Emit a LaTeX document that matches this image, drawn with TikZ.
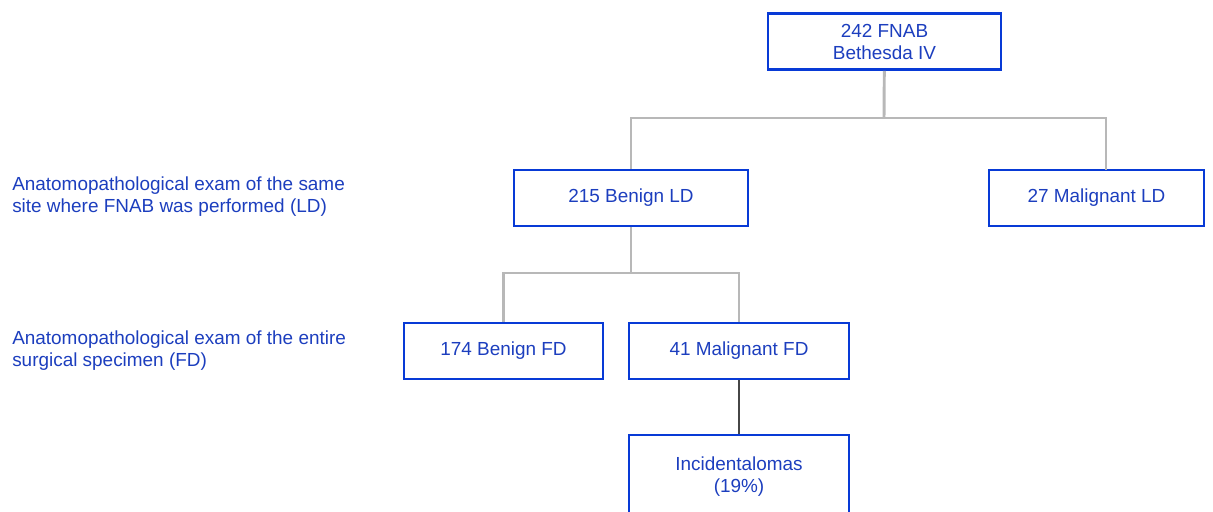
\documentclass[tikz,border=0pt]{standalone}
\usepackage{fontspec}
\setmainfont{Liberation Sans}
\definecolor{boxblue}{RGB}{8,58,214}
\definecolor{txtblue}{RGB}{28,62,190}
\definecolor{linegray}{RGB}{184,184,184}
\definecolor{linedark}{RGB}{70,70,70}
\begin{document}
\begin{tikzpicture}[x=0.75pt, y=-0.75pt, main box/.style={rectangle,draw=boxblue,line width=2.2pt,text=txtblue,align=center,minimum height=42pt,inner sep=0pt}, side text/.style={anchor=west,align=left,text=txtblue,inner sep=0pt}]%
\useasboundingbox (0,0) rectangle (1213,511);
\begin{scope}[every node/.style={font=\fontsize{14.2}{16.5}\selectfont}]
\node[main box,minimum width=174.75pt] (fnab) at (884.5,41.5) {242 FNAB\\Bethesda IV};
\node[main box,minimum width=175.5pt] (bld) at (631,198) {215 Benign LD};
\node[main box,minimum width=161.25pt] (mld) at (1096.5,198) {27 Malignant LD};
\node[main box,minimum width=149.25pt] (bfd) at (503.5,351) {174 Benign FD};
\node[main box,minimum width=165pt] (mfd) at (739,351) {41 Malignant FD};
\node[main box,minimum width=165pt,minimum height=63pt] (inc) at (739,477) {Incidentalomas\\(19\%)};
\node[side text] (labld) at (12,197) {Anatomopathological exam of the same\\site where FNAB was performed (LD)};
\node[side text] (labfd) at (12,351) {Anatomopathological exam of the entire\\surgical specimen (FD)};
\end{scope}
\coordinate (j1) at (884,118);
\coordinate (j2) at (631,273);
\coordinate (mldtop) at (1106,170);
\begin{scope}[every path/.style={draw=linegray,line width=2.2pt}]
\draw  (fnab) edge (j1);
\draw  (bld.north) |- (j1) -| (mldtop);
\draw  (bld) edge (j2);
\draw  (bfd.north) |- (j2) -| (mfd.north);
\end{scope}
\draw[linedark,line width=1pt]  (mfd) -- (inc);
\end{tikzpicture}
\end{document}
